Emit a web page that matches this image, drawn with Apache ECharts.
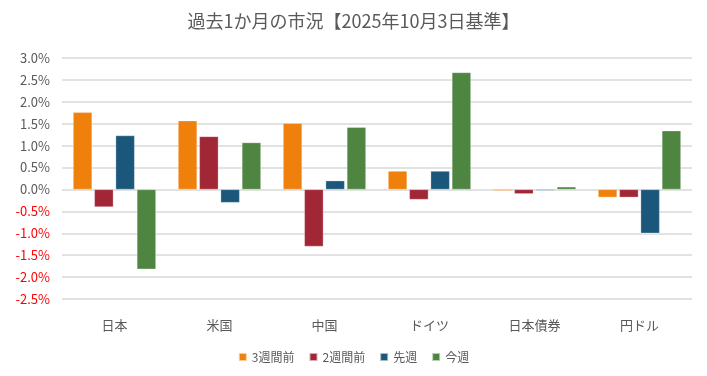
<!DOCTYPE html>
<html>
<head>
<meta charset="utf-8">
<script src="https://cdn.jsdelivr.net/npm/echarts@6/dist/echarts.min.js"></script>
<style>
  html, body { margin: 0; padding: 0; background: #fff; }
  #chart { width: 707px; height: 376px; }
</style>
</head>
<body>
<div id="chart"></div>
<script>
var categories = ['日本', '米国', '中国', 'ドイツ', '日本債券', '円ドル'];
var seriesNames = ['3週間前', '2週間前', '先週', '今週'];
var week3 = [1.76, 1.57, 1.51, 0.42, -0.03, -0.18];
var week2 = [-0.40, 1.21, -1.30, -0.23, -0.10, -0.18];
var lastWeek = [1.23, -0.30, 0.20, 0.42, -0.02, -1.00];
var thisWeek = [-1.82, 1.07, 1.42, 2.67, 0.06, 1.34];
var colors = ['#F0800C', '#A12636', '#1B577B', '#4E8541'];

var font = '"Noto Sans CJK JP", "Noto Sans", sans-serif';
var chart = echarts.init(document.getElementById('chart'));

function bar(name, data, i) {
  return {
    name: name,
    type: 'bar',
    data: data,
    barWidth: 19,
    barGap: '12%',
    barMinHeight: 1,
    itemStyle: {
      color: colors[i],
      borderColor: 'rgba(255,255,255,0.6)',
      borderWidth: 0.5
    }
  };
}

chart.setOption({
  animation: false,
  title: {
    text: '過去1か月の市況【2025年10月3日基準】',
    left: 'center',
    top: 7,
    textStyle: { fontFamily: font, fontSize: 18, fontWeight: 'normal', color: '#595959' }
  },
  legend: {
    data: seriesNames,
    bottom: 8,
    left: 'center',
    icon: 'rect',
    itemWidth: 8,
    itemHeight: 8,
    itemGap: 14,
    textStyle: { fontFamily: font, fontSize: 12, color: '#595959' }
  },
  grid: { left: 62, right: 15, top: 58, bottom: 77 },
  xAxis: {
    type: 'category',
    data: categories,
    axisLine: { show: false },
    axisTick: { show: false },
    axisLabel: { fontFamily: font, fontSize: 13, color: '#595959', margin: 20 }
  },
  yAxis: {
    type: 'value',
    min: -2.5,
    max: 3.0,
    interval: 0.5,
    axisLine: { show: false },
    axisTick: { show: false },
    splitLine: { lineStyle: { color: '#d9d9d9', width: 1.5 } },
    axisLabel: {
      fontFamily: font,
      fontSize: 13,
      margin: 12,
      formatter: function (v) { return v.toFixed(1) + '%'; },
      color: function (v) { return v < 0 ? '#FF0000' : '#595959'; }
    }
  },
  series: [
    bar(seriesNames[0], week3, 0),
    bar(seriesNames[1], week2, 1),
    bar(seriesNames[2], lastWeek, 2),
    bar(seriesNames[3], thisWeek, 3)
  ]
});
</script>
</body>
</html>
